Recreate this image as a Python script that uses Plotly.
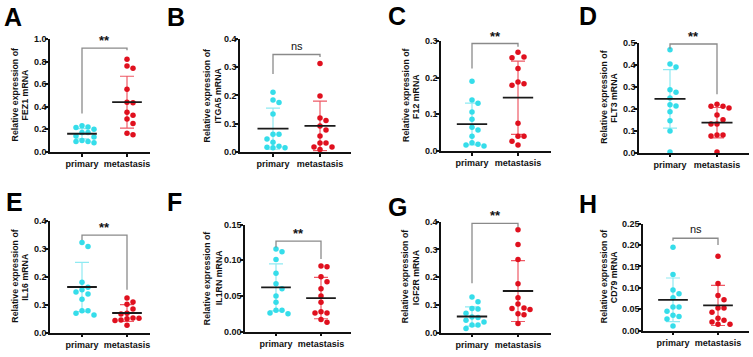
import numpy as np
import plotly.graph_objects as go

# ---------------- data ----------------
letters = ["A", "B", "C", "D", "E", "F", "G", "H"]
genes = ["FEZ1", "ITGA5", "F12", "FLT3", "IL16", "IL1RN", "IGF2R", "CD79"]
groups = ["primary", "metastasis"]

primary_vals = [
    [0.23, 0.22, 0.215, 0.20, 0.17, 0.17, 0.14, 0.13, 0.10, 0.09, 0.09, 0.08],
    [0.211, 0.175, 0.184, 0.134, 0.062, 0.062, 0.045, 0.034, 0.014, 0.02, 0.014, 0.016],
    [0.19, 0.139, 0.13, 0.106, 0.086, 0.064, 0.057, 0.04, 0.013, 0.018, 0.016, 0.022],
    [0.469, 0.404, 0.39, 0.275, 0.287, 0.249, 0.213, 0.219, 0.187, 0.146, 0.099, 0.003],
    [0.322, 0.308, 0.18, 0.162, 0.153, 0.138, 0.145, 0.119, 0.078, 0.078, 0.069, 0.063],
    [0.116, 0.112, 0.101, 0.082, 0.067, 0.06, 0.05, 0.041, 0.025, 0.03, 0.03, 0.026],
    [0.128, 0.111, 0.085, 0.087, 0.07, 0.054, 0.056, 0.044, 0.027, 0.027, 0.015, 0.038],
    [0.195, 0.131, 0.095, 0.086, 0.077, 0.055, 0.055, 0.045, 0.036, 0.027, 0.011, 0.033],
]
metastasis_vals = [
    [0.82, 0.74, 0.76, 0.555, 0.435, 0.44, 0.35, 0.325, 0.29, 0.25, 0.15, 0.165],
    [0.313, 0.198, 0.111, 0.12, 0.091, 0.077, 0.056, 0.031, 0.031, 0.017, 0.017, 0.008],
    [0.269, 0.256, 0.254, 0.225, 0.183, 0.188, 0.179, 0.075, 0.04, 0.04, 0.016, 0.026],
    [0.221, 0.212, 0.212, 0.204, 0.172, 0.15, 0.131, 0.131, 0.081, 0.076, 0.081, 0.003],
    [0.124, 0.109, 0.101, 0.069, 0.084, 0.066, 0.052, 0.043, 0.045, 0.049, 0.026, 0.051],
    [0.091, 0.092, 0.077, 0.07, 0.06, 0.05, 0.041, 0.026, 0.026, 0.028, 0.017, 0.013],
    [0.371, 0.318, 0.264, 0.176, 0.126, 0.103, 0.089, 0.083, 0.087, 0.068, 0.064, 0.033],
    [0.174, 0.11, 0.082, 0.072, 0.053, 0.053, 0.043, 0.029, 0.024, 0.015, 0.015, 0.02],
]
primary_mean = [0.16, 0.082, 0.073, 0.245, 0.163, 0.062, 0.058, 0.072]
primary_sd = [0.045, 0.073, 0.057, 0.133, 0.088, 0.033, 0.035, 0.051]
metastasis_mean = [0.44, 0.092, 0.145, 0.137, 0.07, 0.047, 0.15, 0.059]
metastasis_sd = [0.23, 0.088, 0.10, 0.069, 0.03, 0.029, 0.11, 0.047]

significance = ["**", "ns", "**", "**", "**", "**", "**", "ns"]
bracket_top = [0.92, 0.345, 0.293, 0.495, 0.349, 0.127, 0.394, 0.216]
bracket_left = [0.34, 0.276, 0.225, 0.472, 0.331, 0.118, 0.178, 0.21]
bracket_right = [0.90, 0.336, 0.284, 0.266, 0.153, 0.102, 0.38, 0.20]

y_max = [1.0, 0.4, 0.3, 0.5, 0.4, 0.15, 0.4, 0.25]
y_dtick = [0.2, 0.1, 0.1, 0.1, 0.1, 0.05, 0.1, 0.05]
y_format = [".1f", ".1f", ".1f", ".1f", ".1f", ".2f", ".1f", ".2f"]

# ---------------- layout constants (pixels) ----------------
W, H = 753, 357
boxes = [  # x0, x1, ytop, ybottom
    (50, 150, 35, 151), (240, 351, 35, 151), (441, 551, 37, 150), (639, 749, 39, 152),
    (50, 150, 222, 337), (245, 351, 226, 336), (441, 551, 223, 337), (643, 749, 225, 335),
]
cat_px = [(82, 127), (273, 320), (472, 518), (670, 717),
          (82, 127), (276, 321), (472, 518), (673, 718)]
title_lines_x = [(15, 25), (207, 218), (406, 416), (604, 614),
                 (15, 25), (207, 219), (405, 416), (604, 614)]
letter_pos = [(2, -4), (165, -4), (386, -5), (577, -5), (4, 186), (165, 186), (386, 191), (577, 188)]

CYAN = "#35DDEA"
CYAN_ERR = "#8FEAF2"
RED = "#E0101E"
RED_ERR = "#EE5A66"
FONT = "Liberation Sans, Arial, sans-serif"


def swarm(vals, ppu_y, ppu_x, d=6.0):
    vals = np.asarray(vals, float)
    order = np.argsort(-vals)
    placed = []
    offs = np.zeros(len(vals))
    cands = [0]
    for k in range(1, 8):
        cands += [k, -k]
    for i in order:
        y = vals[i] * ppu_y
        for c in cands:
            x = c * d
            if all((x - px) ** 2 + (y - py) ** 2 >= (d * 0.95) ** 2 for px, py in placed):
                placed.append((x, y))
                offs[i] = x / ppu_x
                break
    return offs


fig = go.Figure()
layout = {}
annotations = []

for i in range(8):
    x0, x1, yt, yb = boxes[i]
    p0, p1 = cat_px[i]
    unit = p1 - p0
    xr = [-(p0 - x0) / unit, 1 + (x1 - p1) / unit]
    ppu_y = (yb - yt) / y_max[i]
    sfx = "" if i == 0 else str(i + 1)
    xa, ya = "x" + sfx, "y" + sfx

    # error bars (SD)
    for g, (m, s, col) in enumerate([(primary_mean[i], primary_sd[i], CYAN_ERR),
                                      (metastasis_mean[i], metastasis_sd[i], RED_ERR)]):
        fig.add_trace(go.Scatter(
            x=[g], y=[m], mode="markers", xaxis=xa, yaxis=ya,
            marker=dict(size=1, color="rgba(0,0,0,0)"),
            error_y=dict(type="data", array=[s], color=col, thickness=1.2, width=7),
            showlegend=False, hoverinfo="skip", cliponaxis=False))

    # points
    for g, (vals, col) in enumerate([(primary_vals[i], CYAN), (metastasis_vals[i], RED)]):
        offs = swarm(vals, ppu_y, unit)
        fig.add_trace(go.Scatter(
            x=g + offs, y=vals, mode="markers", xaxis=xa, yaxis=ya,
            marker=dict(size=5.5, color=col, line=dict(width=0)),
            showlegend=False, cliponaxis=False))

    # mean lines
    for g, m in enumerate([primary_mean[i], metastasis_mean[i]]):
        fig.add_trace(go.Scatter(
            x=[g - 0.33, g + 0.33], y=[m, m], mode="lines", xaxis=xa, yaxis=ya,
            line=dict(color="#1a1a1a", width=1.8), showlegend=False, hoverinfo="skip",
            cliponaxis=False))

    # significance bracket
    fig.add_trace(go.Scatter(
        x=[0, 0, 1, 1], y=[bracket_left[i], bracket_top[i], bracket_top[i], bracket_right[i]],
        mode="lines", xaxis=xa, yaxis=ya, line=dict(color="#8a8a8a", width=1.3),
        showlegend=False, hoverinfo="skip", cliponaxis=False))
    star = significance[i] == "**"
    annotations.append(dict(
        x=0.5, y=bracket_top[i], xref=xa, yref=ya, text=significance[i], showarrow=False,
        yanchor="bottom", yshift=-2 if star else 1,
        font=dict(family=FONT, size=13 if star else 11, color="#111",
                  weight="bold" if star else "normal")))

    layout["xaxis" + sfx] = dict(
        domain=[x0 / W, x1 / W], range=xr, anchor=ya, showgrid=False, zeroline=False,
        showline=True, linecolor="#111", linewidth=1.5, ticks="outside", ticklen=3,
        tickwidth=1.5, tickcolor="#111", tickvals=[0, 1], ticktext=groups,
        tickfont=dict(family=FONT, size=9, color="#111", weight="bold"), fixedrange=True)
    layout["yaxis" + sfx] = dict(
        domain=[1 - yb / H, 1 - yt / H], range=[0, y_max[i]], anchor=xa, showgrid=False,
        zeroline=False, showline=True, linecolor="#111", linewidth=1.5, ticks="outside",
        ticklen=3, tickwidth=1.5, tickcolor="#111", dtick=y_dtick[i], tick0=0,
        tickformat=y_format[i], tickfont=dict(family=FONT, size=9, color="#111", weight="bold"),
        ticklabelstandoff=-3, fixedrange=True)

    # y title (two separate lines for tight spacing)
    for text, lxp in zip(["Relative expression of", genes[i] + " mRNA"], title_lines_x[i]):
        annotations.append(dict(
            x=lxp / W, y=1 - (yt + yb) / 2 / H, xref="paper", yref="paper",
            text=text, textangle=-90, showarrow=False, xanchor="center", yanchor="middle",
            font=dict(family=FONT, size=8.8, color="#111", weight="bold")))
    # panel letter
    lx, ly = letter_pos[i]
    annotations.append(dict(
        x=lx / W, y=1 - ly / H, xref="paper", yref="paper", text=letters[i],
        showarrow=False, xanchor="left", yanchor="top",
        font=dict(family=FONT, size=25, color="#000", weight="bold")))

fig.update_layout(
    width=W, height=H, margin=dict(l=0, r=0, t=0, b=0),
    paper_bgcolor="white", plot_bgcolor="white", annotations=annotations, **layout)

fig.write_html("out.html", config={"displayModeBar": False},
               post_script="document.body.style.margin='0';document.body.style.overflow='hidden';")
